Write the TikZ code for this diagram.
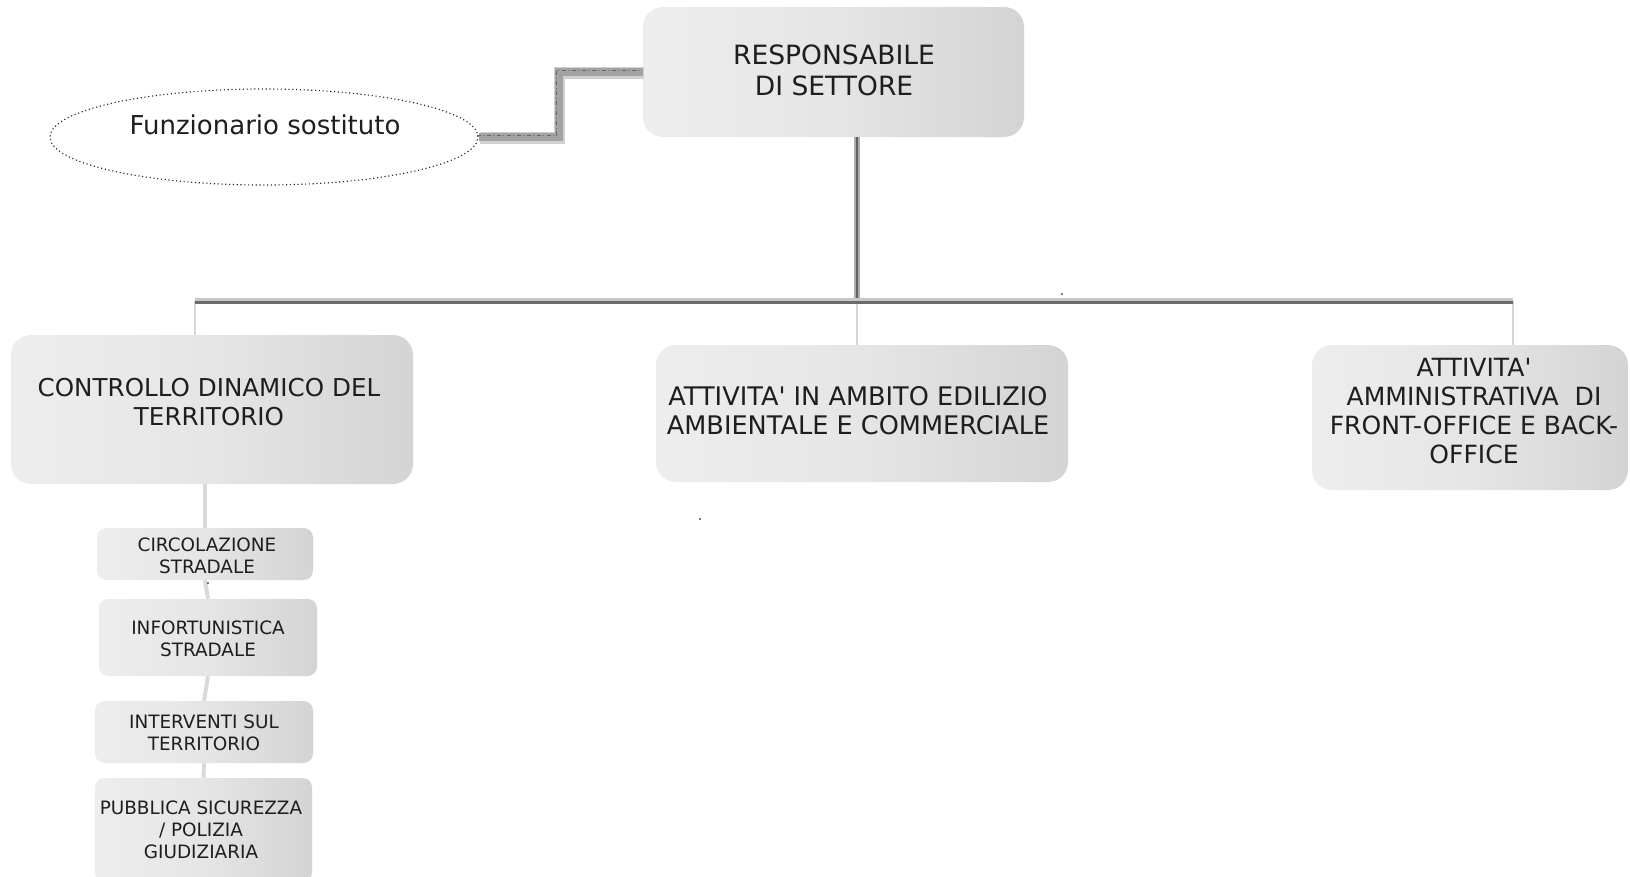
\documentclass[tikz,border=0pt]{standalone}
\usepackage{fontspec}
\setmainfont{DejaVu Sans}[Ligatures=TeXOff]
\usetikzlibrary{shapes.geometric}
\definecolor{txt}{HTML}{1E1E1E}
\begin{document}
\begin{tikzpicture}[x=0.75pt,y=-0.75pt,
  boxbase/.style={rectangle, left color=black!7, right color=black!17, middle color=black!10, inner sep=0pt},
  bigbox/.style={boxbase, rounded corners=15pt},
  smallbox/.style={boxbase, rounded corners=7pt},
  bigtext/.style={align=center, text=txt, inner sep=0pt, font=\fontsize{18.8}{21.75}\selectfont},
  smalltext/.style={align=center, text=txt, inner sep=0pt, font=\fontsize{13.8}{16.5}\selectfont},
  drop/.style={black!16, line width=2.2pt},
  spine/.style={black!15, line width=3pt},
  trunkout/.style={black!32, line width=3.8pt},
  trunkin/.style={black!62, line width=1.8pt},
  busout/.style={black!22, line width=4.5pt},
  busin/.style={black!58, line width=2.3pt},
  bandsoft/.style={black!18, line width=8.5pt},
  bandline/.style={black!36, line width=6pt},
  bandthin/.style={black!60, line width=0.5pt, dash dot},
]
\useasboundingbox (0,0) rectangle (1630,876);
\clip (0,0) rectangle (1630,876);
\fill[white] (0,0) rectangle (1630,876);

% boxes
\node[bigbox, minimum width=285.75pt, minimum height=97.5pt] (resp) at (833.5,72) {};
\node[ellipse, draw=black!85, dotted, line width=0.85pt, fill=white, inner sep=0pt,
      minimum width=321pt, minimum height=72pt] (funz) at (264,137) {};
\node[bigbox, minimum width=301.5pt, minimum height=111.75pt] (ctrl) at (212,409.5) {};
\node[bigbox, minimum width=309pt, minimum height=102.75pt] (ediz) at (862,413.5) {};
\node[bigbox, minimum width=237pt, minimum height=108.75pt] (amm) at (1470,417.5) {};
\node[smallbox, minimum width=162pt, minimum height=39pt] (circ) at (205,554) {};
\node[smallbox, minimum width=163.5pt, minimum height=57.75pt] (inf) at (208,637.5) {};
\node[smallbox, minimum width=163.5pt, minimum height=46.5pt] (int) at (204,732) {};
\node[smallbox, minimum width=162.75pt, minimum height=78pt] (pub) at (203.5,830) {};

% texts
\node[bigtext, font=\fontsize{19.9}{23.25}\selectfont] (respt) at (834,70) {RESPONSABILE\\DI SETTORE};
\node[bigtext, font=\fontsize{19.5}{22}\selectfont] (funzt) at (265,125) {Funzionario sostituto};
\node[bigtext, font=\fontsize{18.45}{21.75}\selectfont] (ctrlt) at (209,402.5) {CONTROLLO DINAMICO DEL\\TERRITORIO};
\node[bigtext, font=\fontsize{19.2}{21.75}\selectfont] (edizt) at (858,410.5) {ATTIVITA' IN AMBITO EDILIZIO\\AMBIENTALE E COMMERCIALE};
\node[bigtext] (ammt) at (1474,411) {ATTIVITA'\\AMMINISTRATIVA\ \ DI\\FRONT-OFFICE E BACK-\\OFFICE};
\node[smalltext] (circt) at (207,556) {CIRCOLAZIONE\\STRADALE};
\node[smalltext] (inft) at (208,639) {INFORTUNISTICA\\STRADALE};
\node[smalltext] (intt) at (204,733) {INTERVENTI SUL\\TERRITORIO};
\node[smalltext] (pubt) at (201,829.5) {PUBBLICA SICUREZZA\\/ POLIZIA\\GIUDIZIARIA};

% bus coordinates
\coordinate (bl) at (195,301);
\coordinate (bm) at (857,301);
\coordinate (br) at (1513,301);

% drops
\draw[drop] (bl) -- (ctrl.north -| bl);
\draw[drop] (bm) -- (ediz.north -| bm);
\draw[drop] (br) -- (amm.north -| br);

% trunk
\draw[trunkout] (resp.south -| bm) -- (bm);
\draw[trunkin] (resp.south -| bm) -- (bm);

% bus
\draw[busout] (bl) -- (br);
\draw[busin, transform canvas={yshift=-0.8pt}] (bl) -- (br);

% spine of the sub-boxes
\draw[spine] (ctrl.south -| circ.north) -- (circ.north);
\draw[spine] (circ.south) -- (inf.north);
\draw[spine] (inf.south) -- (int.north);
\draw[spine] (int.south) -- (pub.north);

% link ellipse -> responsabile
\draw[bandsoft, transform canvas={shift={(0.8pt,-0.8pt)}}] (funz.east) -- ++(80,0) |- (resp.west);
\draw[bandline] (funz.east) -- ++(80,0) |- (resp.west);
\draw[bandthin, transform canvas={shift={(-1.5pt,1.5pt)}}] (funz.east) -- ++(80,0) |- (resp.west);

% stray dots
\fill[black] (1062,294) circle (0.8);
\fill[black] (700,519) circle (0.8);
\fill[black] (208,583) circle (0.8);
\end{tikzpicture}
\end{document}
